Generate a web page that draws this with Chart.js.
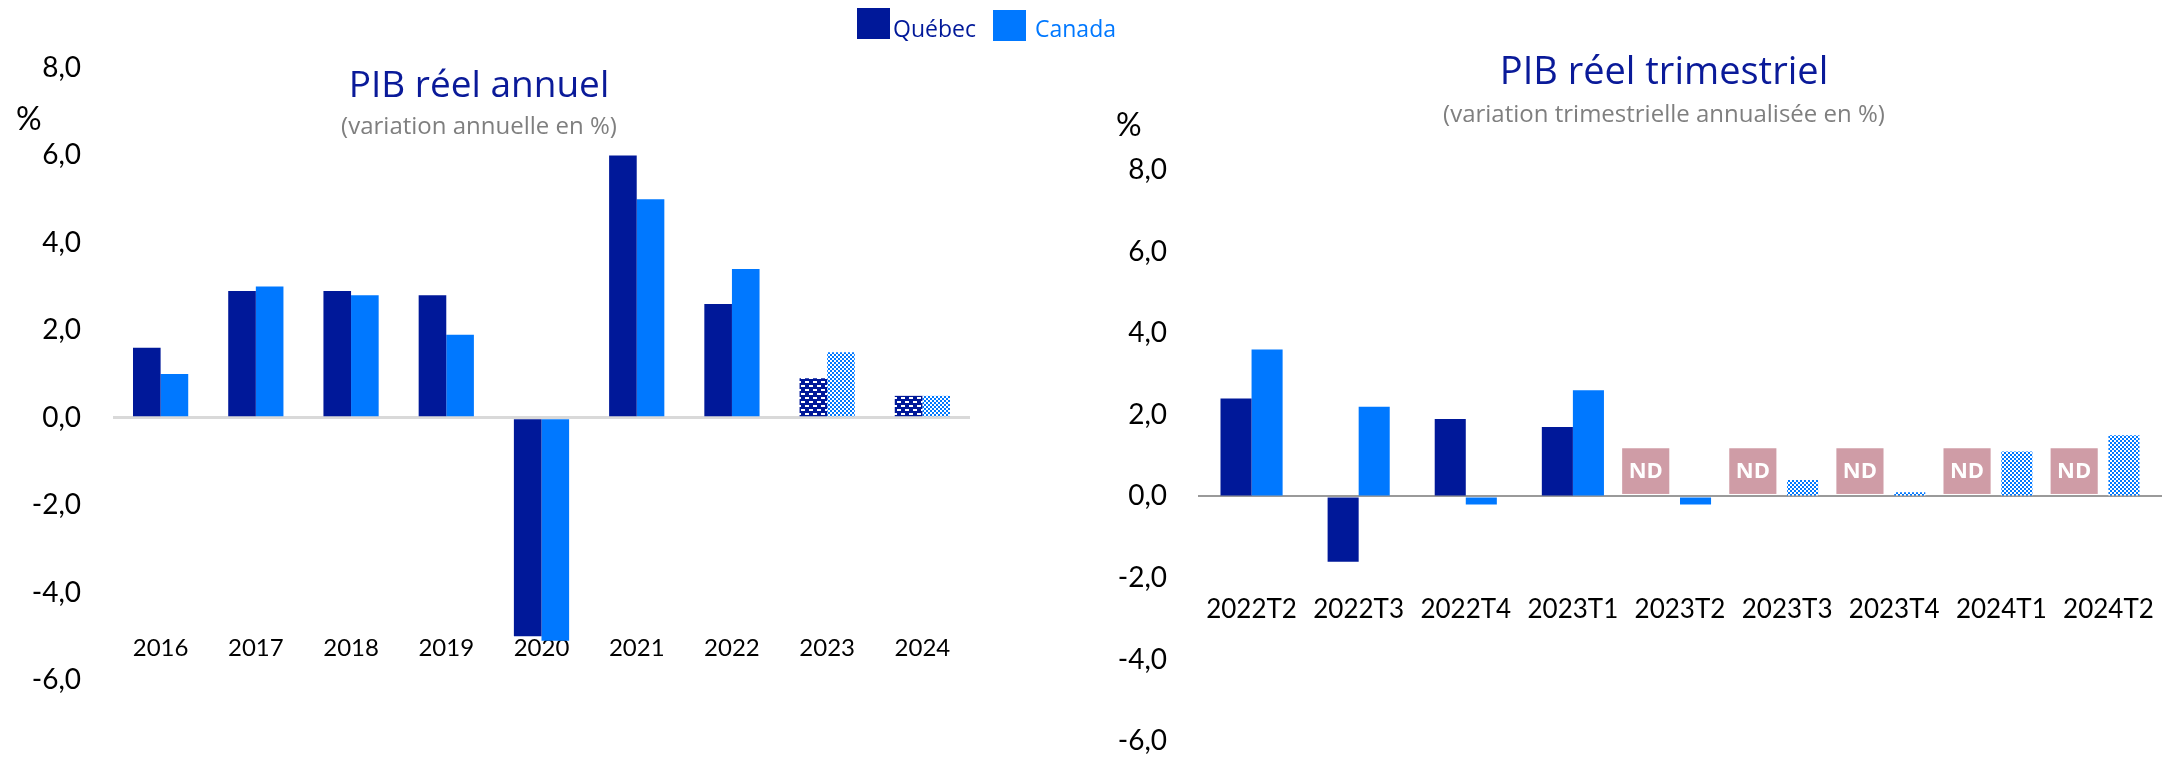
<!DOCTYPE html>
<html lang="fr">
<head>
<meta charset="utf-8">
<title>PIB réel - Québec et Canada</title>
<script src="https://cdn.jsdelivr.net/npm/chart.js@4.4.0/dist/chart.umd.min.js"></script>
<style>
    body { margin: 0; background: #fff; }
    #page { position: relative; width: 2165px; height: 758px; overflow: hidden; background: #fff; }
    .bloc { position: absolute; top: 0; height: 758px; }
    .titre { position: absolute; transform: translateX(-50%); white-space: nowrap; font-family: 'Open Sans', sans-serif; color: #0a1a99; font-size: 38px; line-height: 38px; }
    .sous-titre { position: absolute; transform: translateX(-50%); white-space: nowrap; font-family: 'Open Sans', sans-serif; color: #7f7f7f; font-size: 24px; line-height: 26px; }
    .unite { position: absolute; font-family: Lato, sans-serif; font-size: 32px; line-height: 32px; color: #000; }
    .legende { position: absolute; top: 0; font-family: 'Open Sans', sans-serif; font-size: 23px; line-height: 24px; }
    .carre { position: absolute; width: 33px; height: 31px; }
</style>
</head>
<body>
<div id="page">
    <div class="bloc" style="left:0; width:1000px;"><canvas id="graphAnnuel"></canvas></div>
    <div class="bloc" style="left:1080px; width:1085px;"><canvas id="graphTrim"></canvas></div>

    <!-- Légende commune -->
    <div class="carre" style="left:857px; top:8px; background:#001899;"></div>
    <div class="legende" style="left:893px; top:16px; color:#001899;">Québec</div>
    <div class="carre" style="left:993px; top:10px; background:#0078ff;"></div>
    <div class="legende" style="left:1035px; top:16px; color:#0078ff;">Canada</div>

    <!-- Titres -->
    <div class="titre" style="left:479px; top:64px; font-size:37px;">PIB réel annuel</div>
    <div class="sous-titre" style="left:479px; top:112px;">(variation annuelle en %)</div>
    <div class="unite" style="left:16px; top:102px;">%</div>

    <div class="titre" style="left:1664px; top:50px;">PIB réel trimestriel</div>
    <div class="sous-titre" style="left:1664px; top:100px;">(variation trimestrielle annualisée en %)</div>
    <div class="unite" style="left:1116px; top:108px;">%</div>
</div>

<script>
// Données annuelles
const annees = ['2016', '2017', '2018', '2019', '2020', '2021', '2022', '2023', '2024'];
const quebecAnnuel = [1.6, 2.9, 2.9, 2.8, -5.0, 6.0, 2.6, 0.9, 0.5];
const canadaAnnuel = [1.0, 3.0, 2.8, 1.9, -5.1, 5.0, 3.4, 1.5, 0.5];
const anneesPrevision = ['2023', '2024'];

// Données trimestrielles (Québec non disponible à partir de 2023T2)
const trimestres = ['2022T2', '2022T3', '2022T4', '2023T1', '2023T2', '2023T3', '2023T4', '2024T1', '2024T2'];
const quebecTrim = [2.4, -1.6, 1.9, 1.7, null, null, null, null, null];
const canadaTrim = [3.6, 2.2, -0.2, 2.6, -0.2, 0.4, 0.1, 1.1, 1.5];
const trimestresPrevision = ['2023T3', '2023T4', '2024T1', '2024T2'];
const trimestresND = ['2023T2', '2023T3', '2023T4', '2024T1', '2024T2'];

// Graduations de l'axe vertical
const graduationsY = [-6, -4, -2, 0, 2, 4, 6, 8];

const bleuFonce = '#001899';
const bleuVif = '#0078ff';
const roseND = '#cf9ca6';

// Motif "briques" pour les prévisions du Québec
function motifQuebec() {
    const c = document.createElement('canvas');
    c.width = 8; c.height = 8;
    const ctx = c.getContext('2d');
    ctx.fillStyle = bleuFonce;
    ctx.fillRect(0, 0, 8, 8);
    ctx.fillStyle = '#ffffff';
    ctx.fillRect(1, 1, 4, 2);
    ctx.fillRect(5, 5, 3, 2);
    ctx.fillRect(0, 5, 1, 2);
    return ctx.createPattern(c, 'repeat');
}

// Motif en damier pour les prévisions du Canada
function motifCanada() {
    const c = document.createElement('canvas');
    c.width = 4; c.height = 4;
    const ctx = c.getContext('2d');
    ctx.fillStyle = '#ffffff';
    ctx.fillRect(0, 0, 4, 4);
    ctx.fillStyle = bleuVif;
    ctx.fillRect(0, 0, 2, 2);
    ctx.fillRect(2, 2, 2, 2);
    return ctx.createPattern(c, 'repeat');
}

const policeY = { family: 'Lato, sans-serif', size: 28 };
const formatVirgule = valeur => valeur.toFixed(1).replace('.', ',');

// Boîtes "ND" pour les trimestres non disponibles
const pluginND = {
    id: 'pluginND',
    afterDatasetsDraw(chart) {
        const ctx = chart.ctx;
        const x = chart.scales.x;
        const y = chart.scales.y;
        const largeurCat = x.width / trimestres.length;
        trimestresND.forEach(t => {
            const i = trimestres.indexOf(t);
            const centre = x.getPixelForValue(i) - largeurCat * 0.32;
            const larg = largeurCat * 0.44;
            const haut = y.getPixelForValue(1.18);
            const bas = y.getPixelForValue(0.06);
            ctx.save();
            ctx.fillStyle = roseND;
            ctx.fillRect(centre - larg / 2, haut, larg, bas - haut);
            ctx.fillStyle = '#ffffff';
            ctx.font = 'bold 22px "Open Sans", sans-serif';
            ctx.textAlign = 'center';
            ctx.textBaseline = 'middle';
            ctx.fillText('ND', centre, (haut + bas) / 2 + 1);
            ctx.restore();
        });
    }
};

function creerGraphique(idCanvas, etiquettes, serieQc, serieCa, couleursQc, couleursCa, reglages) {
    return new Chart(document.getElementById(idCanvas), {
        type: 'bar',
        data: {
            labels: etiquettes,
            datasets: [
                { label: 'Québec', data: serieQc, backgroundColor: couleursQc, borderWidth: 0 },
                { label: 'Canada', data: serieCa, backgroundColor: couleursCa, borderWidth: 0 }
            ]
        },
        options: {
            responsive: true,
            maintainAspectRatio: false,
            animation: false,
            layout: { padding: reglages.padding },
            datasets: { bar: { categoryPercentage: 0.58, barPercentage: 1.0 } },
            plugins: { legend: { display: false }, tooltip: { enabled: false } },
            scales: {
                x: {
                    position: { y: reglages.positionX },
                    afterFit: scale => { scale.height = 0; },
                    grid: { display: false, drawTicks: false },
                    border: { display: false },
                    ticks: { font: { family: 'Lato, sans-serif', size: reglages.tailleX }, color: '#000', padding: 0, maxRotation: 0, autoSkip: false }
                },
                y: {
                    min: graduationsY[0],
                    max: graduationsY[graduationsY.length - 1],
                    afterBuildTicks: scale => { scale.ticks = graduationsY.map(v => ({ value: v })); },
                    afterFit: scale => { scale.width = reglages.largeurAxe; },
                    border: { display: false },
                    grid: {
                        drawTicks: true,
                        tickLength: reglages.ecartTicks,
                        tickColor: 'rgba(0,0,0,0)',
                        color: c => c.tick && c.tick.value === 0 ? reglages.couleurZero : 'rgba(0,0,0,0)',
                        lineWidth: c => c.tick && c.tick.value === 0 ? reglages.epaisseurZero : 0
                    },
                    ticks: { font: policeY, color: '#000', padding: 0, callback: formatVirgule }
                }
            }
        },
        plugins: reglages.plugins || []
    });
}

document.addEventListener('DOMContentLoaded', () => {
    const hachureQc = motifQuebec();
    const hachureCa = motifCanada();

    // Graphique annuel
    creerGraphique('graphAnnuel', annees, quebecAnnuel, canadaAnnuel,
        annees.map(a => anneesPrevision.includes(a) ? hachureQc : bleuFonce),
        annees.map(a => anneesPrevision.includes(a) ? hachureCa : bleuVif),
        {
            padding: { top: 68, bottom: 78, left: 0, right: 30 },
            positionX: -4.95,
            tailleX: 24,
            largeurAxe: 113,
            ecartTicks: 32,
            couleurZero: '#d9d9d9',
            epaisseurZero: 3
        });

    // Graphique trimestriel
    creerGraphique('graphTrim', trimestres, quebecTrim, canadaTrim,
        trimestres.map(() => bleuFonce),
        trimestres.map(t => trimestresPrevision.includes(t) ? hachureCa : bleuVif),
        {
            padding: { top: 170, bottom: 15, left: 0, right: 3 },
            positionX: -2.40,
            tailleX: 26,
            largeurAxe: 118,
            ecartTicks: 31,
            couleurZero: '#9a9a9a',
            epaisseurZero: 2,
            plugins: [pluginND]
        });
});
</script>
</body>
</html>
